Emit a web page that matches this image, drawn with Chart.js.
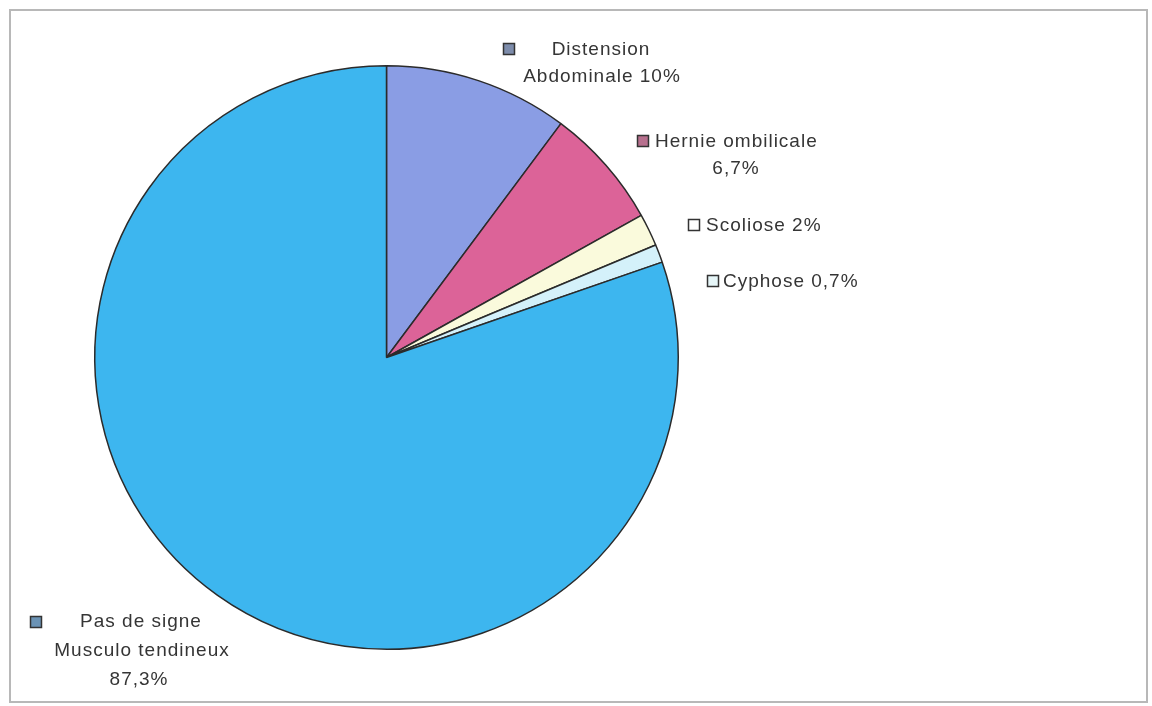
<!DOCTYPE html>
<html>
<head>
<meta charset="utf-8">
<script src="https://cdn.jsdelivr.net/npm/chart.js@4.4.0/dist/chart.umd.min.js"></script>
<style>
  html, body { margin: 0; padding: 0; background: #ffffff; }
  #wrap { width: 1152px; height: 706px; position: relative; }
</style>
</head>
<body>
<div id="wrap"><canvas id="c" width="1152" height="706"></canvas></div>
<script>
// ---- data ----
const categories = ['Distension Abdominale', 'Hernie ombilicale', 'Scoliose', 'Cyphose', 'Pas de signe Musculo tendineux'];
const sliceShares = [10.2, 6.7, 1.8, 1.0, 80.3];
// label texts as printed on the reference
const labelLines = [
  ['Distension', 'Abdominale 10%'],
  ['Hernie ombilicale', '6,7%'],
  ['Scoliose 2%'],
  ['Cyphose 0,7%'],
  ['Pas de signe', 'Musculo tendineux', '87,3%']
];

// ---- styles ----
const sliceColors = ['#8a9de4', '#dc6398', '#fafadc', '#d4f1fa', '#3db6ef'];
const boxColors = ['#7d8cab', '#b7708e', '#ffffff', '#e6f6f8', '#6b93b5'];
const textColor = '#353535';
// label layout (style only): box centre and text lines (x, y, align)
const labelLayout = [
  { box: [509, 49], lines: [[601, 50, 'center'], [602, 77, 'center']] },
  { box: [643, 141], lines: [[655, 142, 'left'], [736, 169, 'center']] },
  { box: [694, 225], lines: [[706, 226, 'left']] },
  { box: [713, 281], lines: [[723, 282, 'left']] },
  { box: [36, 622], lines: [[141, 622, 'center'], [142, 651, 'center'], [139, 680, 'center']] }
];

const framePlugin = {
  id: 'frame',
  beforeDraw(chart) {
    const ctx = chart.ctx;
    ctx.save();
    ctx.fillStyle = '#ffffff';
    ctx.fillRect(0, 0, chart.width, chart.height);
    ctx.strokeStyle = '#b8b8b8';
    ctx.lineWidth = 2;
    ctx.strokeRect(10, 10, 1137, 692);
    ctx.restore();
  }
};

const labelPlugin = {
  id: 'sliceLabels',
  afterDraw(chart) {
    const ctx = chart.ctx;
    ctx.save();
    ctx.font = '19px "Liberation Sans", Arial, sans-serif';
    try { ctx.letterSpacing = '1px'; } catch (e) {}
    ctx.textBaseline = 'middle';
    labelLines.forEach((lines, i) => {
      const lay = labelLayout[i];
      const s = 11;
      ctx.fillStyle = boxColors[i];
      ctx.fillRect(lay.box[0] - s / 2, lay.box[1] - s / 2, s, s);
      ctx.strokeStyle = '#333333';
      ctx.lineWidth = 1.5;
      ctx.strokeRect(lay.box[0] - s / 2, lay.box[1] - s / 2, s, s);
      ctx.fillStyle = textColor;
      lines.forEach((txt, j) => {
        const [x, y, align] = lay.lines[j];
        ctx.textAlign = align;
        ctx.fillText(txt, x, y);
      });
    });
    ctx.restore();
  }
};

new Chart(document.getElementById('c'), {
  type: 'pie',
  data: {
    labels: categories,
    datasets: [{
      data: sliceShares,
      backgroundColor: sliceColors,
      borderColor: '#2b2b2b',
      borderWidth: 1.5,
      hoverOffset: 0
    }]
  },
  options: {
    responsive: false,
    animation: false,
    layout: { padding: { left: 94, top: 65, right: 473, bottom: 56 } },
    plugins: {
      legend: { display: false },
      tooltip: { enabled: false }
    }
  },
  plugins: [framePlugin, labelPlugin]
});
</script>
</body>
</html>
